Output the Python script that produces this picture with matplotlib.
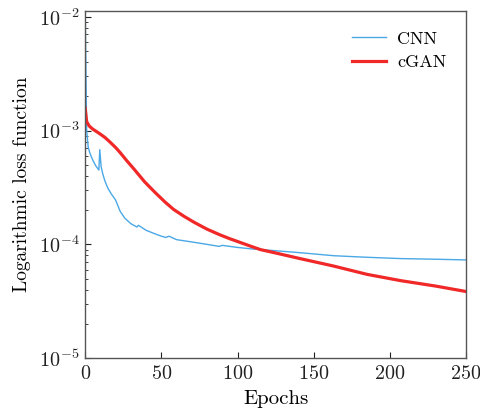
import matplotlib
matplotlib.use("Agg")
import matplotlib.pyplot as plt
from matplotlib.ticker import LogLocator, NullFormatter

plt.rcParams["font.family"] = ["cmr10", "DejaVu Serif"]
plt.rcParams["mathtext.fontset"] = "cm"
plt.rcParams["axes.unicode_minus"] = False
plt.rcParams["axes.formatter.use_mathtext"] = True

# values
cnn_epochs = [0, 1, 2, 3, 5, 7, 9, 9.6, 10.5, 11.5, 13, 15, 17, 20, 23, 26, 30, 34, 35,
              40, 45, 50, 53, 55, 60, 70, 80, 88, 90, 100, 110, 120, 141, 163, 185, 207, 230, 250]
cnn_loss = [1.15e-2, 1.0e-3, 7.2e-4, 6.4e-4, 5.5e-4, 4.9e-4, 4.5e-4, 6.8e-4, 4.8e-4, 4.2e-4,
            3.6e-4, 3.1e-4, 2.8e-4, 2.45e-4, 1.95e-4, 1.7e-4, 1.52e-4, 1.42e-4, 1.47e-4,
            1.33e-4, 1.25e-4, 1.18e-4, 1.15e-4, 1.18e-4, 1.1e-4, 1.05e-4, 1.0e-4, 9.6e-5, 9.8e-5,
            9.4e-5, 9.1e-5, 8.9e-5, 8.45e-5, 7.95e-5, 7.7e-5, 7.5e-5, 7.4e-5, 7.3e-5]

gan_epochs = [0, 1, 2.6, 5, 8, 10, 13, 16, 20, 23, 27, 32, 39, 46, 52.5, 58, 65, 72, 80,
              88, 95, 100, 108, 115, 125, 141, 163, 185, 207, 230, 250]
gan_loss = [1.58e-3, 1.2e-3, 1.1e-3, 1.03e-3, 9.7e-4, 9.3e-4, 8.7e-4, 8.0e-4, 7.1e-4,
            6.4e-4, 5.5e-4, 4.6e-4, 3.55e-4, 2.85e-4, 2.35e-4, 2.03e-4, 1.76e-4, 1.55e-4,
            1.36e-4, 1.22e-4, 1.12e-4, 1.06e-4, 9.7e-5, 9.0e-5, 8.4e-5, 7.5e-5, 6.45e-5,
            5.45e-5, 4.8e-5, 4.3e-5, 3.85e-5]

fig = plt.figure(figsize=(4.81, 4.15), dpi=100)
ax = fig.add_axes([0.177, 0.137, 0.792, 0.836])

ax.plot(cnn_epochs, cnn_loss, color="#4aa8e6", linewidth=1.0, label="CNN")
ax.plot(gan_epochs, gan_loss, color="#f02828", linewidth=2.3, label="cGAN")

ax.set_yscale("log")
ax.set_xlim(0, 250)
ax.set_ylim(1e-5, 1.12e-2)
ax.set_xticks([0, 50, 100, 150, 200, 250])
ax.yaxis.set_major_locator(LogLocator(base=10, numticks=10))
ax.yaxis.set_minor_locator(LogLocator(base=10, subs=range(2, 10), numticks=20))
ax.yaxis.set_minor_formatter(NullFormatter())

ax.tick_params(axis="both", which="both", direction="in", top=False, right=False,
               labelsize=14.5, colors="#222222")
ax.tick_params(axis="x", which="major", length=4, pad=5)
ax.tick_params(axis="y", which="major", length=4, pad=4)
ax.tick_params(axis="y", which="minor", length=2)
for side in ["top", "bottom", "left", "right"]:
    ax.spines[side].set_color("#555555")
    ax.spines[side].set_linewidth(1.0)

ax.set_xlabel("Epochs", fontsize=15, labelpad=5)
ax.set_ylabel("Logarithmic loss function", fontsize=14, labelpad=6)

ax.legend(loc="upper right", frameon=False, fontsize=13, handlelength=1.9,
          handletextpad=0.6, borderaxespad=0.7, labelspacing=0.45)

fig.savefig("out.png", dpi=100)
